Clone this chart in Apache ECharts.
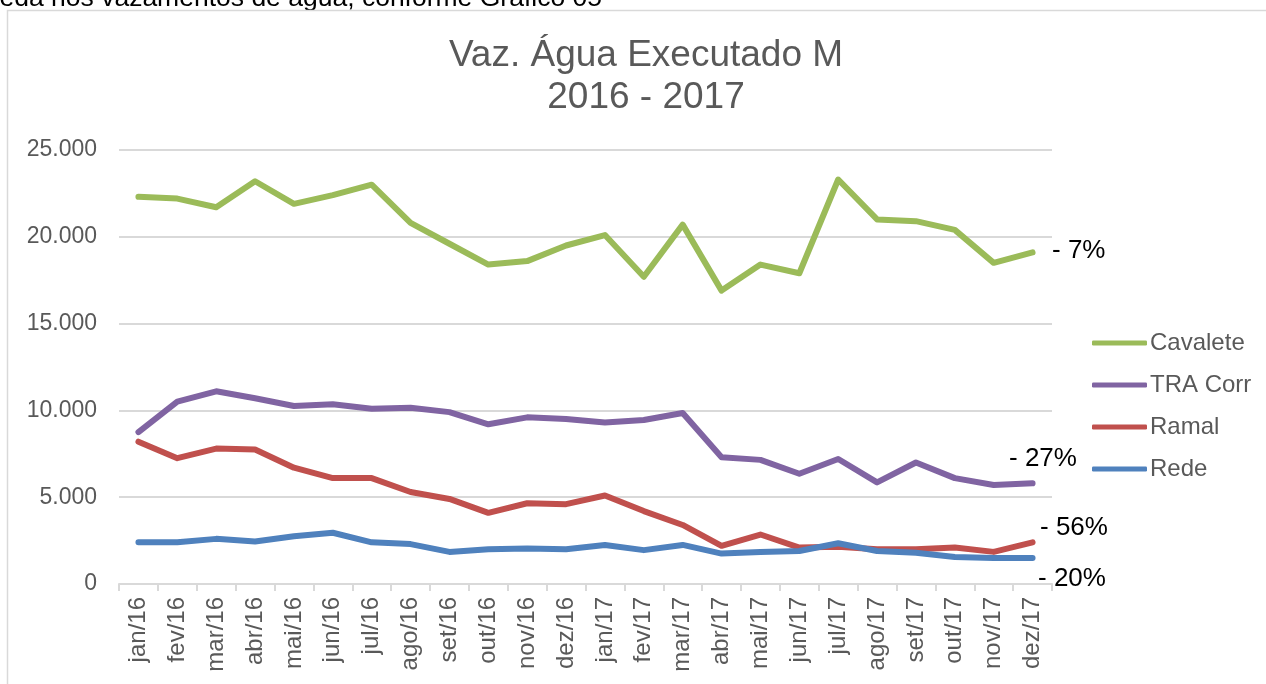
<!DOCTYPE html>
<html>
<head>
<meta charset="utf-8">
<script src="https://cdn.jsdelivr.net/npm/echarts@6/dist/echarts.min.js"></script>
<style>
  html, body { margin: 0; padding: 0; background: #fff; }
  #main { width: 1266px; height: 684px; }
</style>
</head>
<body>
<div id="main"></div>
<script>
// meses
var meses = ['jan/16', 'fev/16', 'mar/16', 'abr/16', 'mai/16', 'jun/16', 'jul/16', 'ago/16', 'set/16', 'out/16', 'nov/16', 'dez/16',
    'jan/17', 'fev/17', 'mar/17', 'abr/17', 'mai/17', 'jun/17', 'jul/17', 'ago/17', 'set/17', 'out/17', 'nov/17', 'dez/17'];

var cavalete = [22300, 22200, 21700, 23200, 21900, 22400, 23000, 20800, 19600, 18400, 18600, 19500,
    20100, 17700, 20700, 16900, 18400, 17900, 23300, 21000, 20900, 20400, 18500, 19100];
var traCorr = [8750, 10500, 11100, 10700, 10250, 10350, 10100, 10150, 9900, 9200, 9600, 9500,
    9300, 9450, 9850, 7300, 7150, 6350, 7200, 5850, 7000, 6100, 5700, 5800];
var ramal = [8200, 7250, 7800, 7750, 6700, 6100, 6100, 5300, 4900, 4100, 4650, 4600,
    5100, 4200, 3400, 2200, 2850, 2100, 2150, 2000, 2000, 2100, 1850, 2400];
var rede = [2400, 2400, 2600, 2450, 2750, 2950, 2400, 2300, 1850, 2000, 2050, 2000,
    2250, 1950, 2250, 1750, 1850, 1900, 2350, 1900, 1800, 1550, 1500, 1500];

var nomes = ['Cavalete', 'TRA Corr', 'Ramal', 'Rede'];
var cores = ['#9BBB59', '#8064A2', '#C0504D', '#4F81BD'];
var variacoes = ['- 7%', '- 27%', '- 56%', '- 20%'];

var fonte = '"Liberation Sans", Arial, sans-serif';

function milhar(v) {
    return String(v).replace(/\B(?=(\d{3})+(?!\d))/g, '.');
}

var myChart = echarts.init(document.getElementById('main'));

var series = [cavalete, traCorr, ramal, rede].map(function (d, i) {
    return {
        name: nomes[i],
        type: 'line',
        data: d,
        symbol: 'none',
        smooth: false,
        lineStyle: { width: 6, color: cores[i], cap: 'round', join: 'round' },
        itemStyle: { color: cores[i] }
    };
});

var option = {
    animation: false,
    textStyle: { fontFamily: fonte },
    title: {
        text: 'Vaz. Água Executado M\n2016 - 2017',
        left: 641,
        textAlign: 'center',
        top: 30,
        textStyle: { fontFamily: fonte, fontSize: 37, fontWeight: 'normal', color: '#595959', lineHeight: 42 }
    },
    grid: { left: 119, right: 214, top: 150, bottom: 100 },
    legend: {
        orient: 'vertical',
        left: 1092,
        top: 331,
        padding: 0,
        itemWidth: 55,
        itemHeight: 5,
        itemGap: 18,
        icon: 'roundRect',
        data: nomes,
        textStyle: { fontFamily: fonte, fontSize: 24, color: '#595959', padding: [0, 0, 0, -2] }
    },
    xAxis: {
        type: 'category',
        data: meses,
        boundaryGap: true,
        axisLine: { lineStyle: { color: '#d9d9d9', width: 2 } },
        axisTick: { show: true, length: 7, lineStyle: { color: '#d9d9d9', width: 2 } },
        axisLabel: { rotate: 90, margin: 13, fontSize: 24, color: '#595959', fontFamily: fonte }
    },
    yAxis: {
        type: 'value',
        min: 0,
        max: 25000,
        interval: 5000,
        axisLine: { show: false },
        axisTick: { show: false },
        splitLine: { lineStyle: { color: '#d9d9d9', width: 2 } },
        axisLabel: { margin: 22, fontSize: 23, color: '#595959', fontFamily: fonte, formatter: milhar }
    },
    graphic: [
        {
            type: 'text', left: -30, top: -15,
            style: { text: 'queda nos vazamentos de água, conforme Gráfico 05', font: '26.5px ' + fonte, fill: '#000' }
        },
        {
            type: 'rect', shape: { x: 7.5, y: 10.5, width: 1300, height: 700 },
            style: { fill: 'none', stroke: '#d9d9d9', lineWidth: 1.5 }
        },
        { type: 'text', x: 1052, y: 251, style: { text: variacoes[0], font: '26px ' + fonte, fill: '#000', verticalAlign: 'middle' } },
        { type: 'text', x: 1009, y: 459, style: { text: variacoes[1], font: '26px ' + fonte, fill: '#000', verticalAlign: 'middle' } },
        { type: 'text', x: 1040, y: 528, style: { text: variacoes[2], font: '26px ' + fonte, fill: '#000', verticalAlign: 'middle' } },
        { type: 'text', x: 1038, y: 579, style: { text: variacoes[3], font: '26px ' + fonte, fill: '#000', verticalAlign: 'middle' } }
    ],
    series: series
};

myChart.setOption(option);
</script>
</body>
</html>
